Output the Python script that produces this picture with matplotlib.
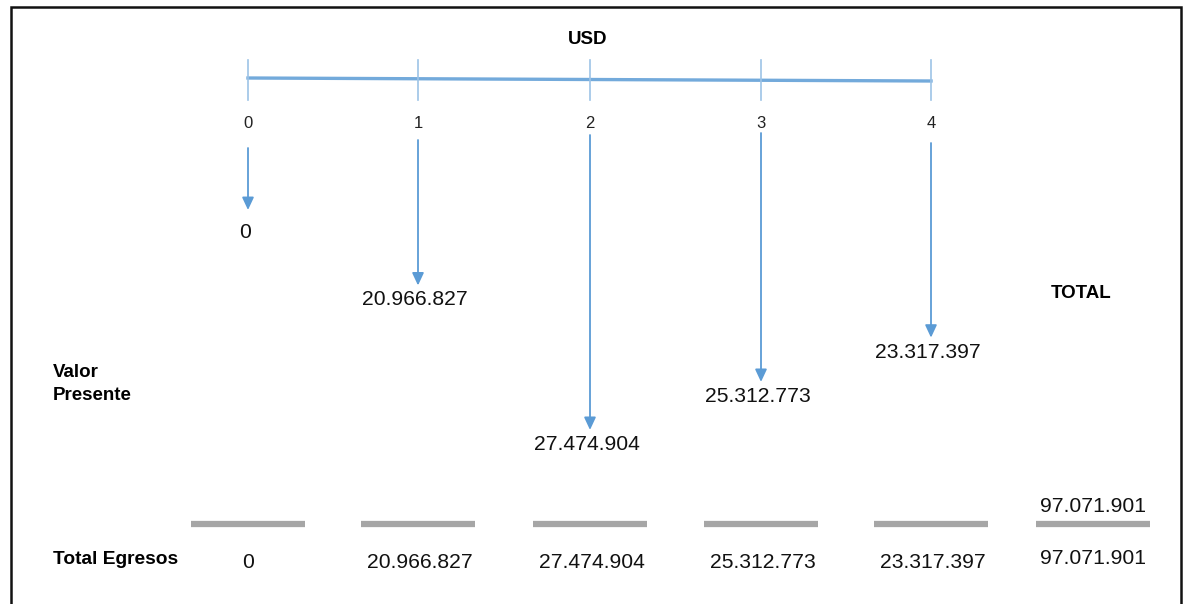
import matplotlib
matplotlib.use("Agg")
import matplotlib.pyplot as plt
from matplotlib import font_manager

# cash flow data (USD)
periods = [0, 1, 2, 3, 4]
egresos = [0, 20966827, 27474904, 25312773, 23317397]
row_label = "Total Egresos"
side_label = "Valor\nPresente"
total_label = "TOTAL"
unit_label = "USD"

total = sum(egresos)


def fmt(v):
    return f"{v:,}".replace(",", ".")


names = {f.name for f in font_manager.fontManager.ttflist}
narrow = "Liberation Sans Narrow" if "Liberation Sans Narrow" in names else "Liberation Sans"
plt.rcParams["font.family"] = ["Liberation Sans", "DejaVu Sans"]

W, H = 1183, 604
fig = plt.figure(figsize=(W / 100, H / 100), dpi=100)
ax = fig.add_axes([0, 0, 1, 1])
ax.set_xlim(0, W)
ax.set_ylim(H, 0)
ax.axis("off")

blue = "#5b9bd5"
light_blue = "#9dc3e6"
grey = "#a6a6a6"

# column layout (pixels)
col_x = [248, 418, 590, 761, 931]
arrow_top = [148, 140, 135, 133, 143]
total_x = 1093
line_y = 79


def tip_y(v):
    # arrow length grows with the amount; zero gets a short stub
    return max(210, -180 + 22.2 * v / 1e6)


# frame
ax.plot([11, 11, 1181, 1181], [H + 5, 7, 7, H + 5], color="#111111", lw=1.8,
        solid_joinstyle="miter")

ax.text(588, 40, unit_label, ha="center", va="center", fontsize=13.5,
        fontweight="bold", family=[narrow, "DejaVu Sans"])

# time line
ax.plot([col_x[0], col_x[-1]], [line_y - 1, line_y + 2], color=blue, lw=2.4, alpha=0.85)
for x, p in zip(col_x, periods):
    ax.plot([x, x], [60, 100], color=light_blue, lw=1.2)
    ax.text(x, 124, str(p), ha="center", va="center", fontsize=12,
            family=[narrow, "DejaVu Sans"], color="#222222")

# arrows
for x, top, v in zip(col_x, arrow_top, egresos):
    y1 = tip_y(v)
    ax.annotate("", xy=(x, y1), xytext=(x, top),
                arrowprops=dict(arrowstyle="-|>,head_length=0.75,head_width=0.35",
                                color=blue, lw=1.3, shrinkA=0, shrinkB=0))
    gap = 13 if v == 0 else 5
    ax.text(x - 3, y1 + gap, fmt(v), ha="center", va="top", fontsize=15.2,
            color="#111111")

ax.text(1081, 293, total_label, ha="center", va="center", fontsize=13.5,
        fontweight="bold")
ax.text(53, 384, side_label, ha="left", va="center", fontsize=13.5,
        fontweight="bold", linespacing=1.4)

# grey separators
for x in col_x + [total_x]:
    ax.plot([x - 57, x + 57], [524, 524], color=grey, lw=4.5, solid_capstyle="butt")

ax.text(total_x, 506, fmt(total), ha="center", va="center", fontsize=15.2,
        color="#111111")

# bottom row
ax.text(53, 560, row_label, ha="left", va="center", fontsize=13.8,
        fontweight="bold")
for x, v in zip(col_x, egresos):
    ax.text(x + (0 if v == 0 else 2), 562, fmt(v), ha="center", va="center",
            fontsize=15.2, color="#111111")
ax.text(total_x, 558, fmt(total), ha="center", va="center", fontsize=15.2,
        color="#111111")

fig.savefig("out.png", dpi=100, facecolor="white")
